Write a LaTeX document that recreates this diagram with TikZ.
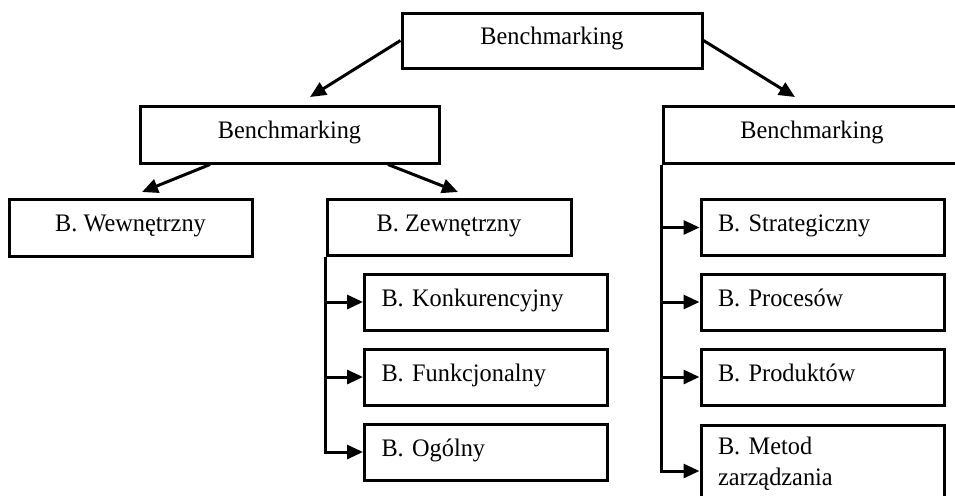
\documentclass[tikz,border=0pt]{standalone}
\usepackage{fontspec}
\setmainfont{Liberation Serif}[FakeStretch=0.965]
\usetikzlibrary{arrows.meta,calc}
\begin{document}
\begin{tikzpicture}[x=0.5pt,y=-0.5pt,
 box/.style={draw, line width=1.5pt, rectangle, inner sep=0pt, text height=7pt, text depth=3pt,
   font=\fontsize{12.6}{15.5}\selectfont},
 bigbox/.style={box, minimum width=150pt, minimum height=28pt},
 midbox/.style={box, minimum width=122pt, minimum height=28pt},
 subbox/.style={box, minimum height=28pt, text width=104.5pt, inner xsep=8.5pt, align=left},
 arr/.style={line width=1.5pt, -{Triangle[length=8pt,width=7pt]}},
]
\useasboundingbox (0,0) rectangle (955,495);
\clip (0,0) rectangle (955,495);
\node[bigbox, minimum width=150pt, minimum height=27.5pt] (top) at (552,40.5) {Benchmarking};
\node[bigbox, minimum width=149.5pt, minimum height=28.5pt] (lb) at (289.5,134.5) {Benchmarking};
\node[midbox, minimum width=121.5pt, minimum height=28.5pt] (wew) at (130.5,227.5) {B. Wewnętrzny};
\node[midbox] (zew) at (449,227) {B. Zewnętrzny};
\node[subbox] (konk) at (486,302) {B. Konkurencyjny};
\node[subbox] (funk) at (486,377) {B. Funkcjonalny};
\node[subbox] (ogol) at (486,452) {B. Ogólny};
\node[bigbox, minimum width=149pt, minimum height=28.5pt] (rb) at (812,134.5) {Benchmarking};
\node[subbox] (strat) at (822.5,227.5) {B. Strategiczny};
\node[subbox] (proc) at (822.5,302) {B. Procesów};
\node[subbox] (prod) at (822.5,377) {B. Produktów};
\node[subbox, minimum height=0pt, text height=14.5pt, text depth=28.5pt, anchor=north] (metod) at (822.5,424) {B. Metod\\zarządzania};
\coordinate (tl) at (310,97);
\coordinate (tr) at (795,97);
\coordinate (lw) at (142,192);
\coordinate (lz) at (458,192);
\draw[arr] (top.west) -- (tl);
\draw[arr] (top.east) -- (tr);
\draw[arr] ($(lb.south)+(-79.5,0)$) -- (lw);
\draw[arr] ($(lb.south)+(98.5,0)$) -- (lz);
\draw[arr] (zew.south west) |- (konk.west);
\draw[arr] (zew.south west) |- (funk.west);
\draw[arr] (zew.south west) |- (ogol.west);
\draw[arr] (rb.south west) |- (strat.west);
\draw[arr] (rb.south west) |- (proc.west);
\draw[arr] (rb.south west) |- (prod.west);
\draw[arr] (rb.south west) |- ($(metod.north west)+(0,47)$);
\end{tikzpicture}
\end{document}
